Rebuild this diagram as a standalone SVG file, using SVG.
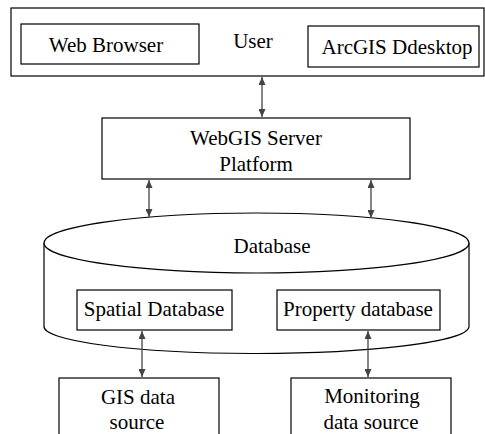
<svg xmlns="http://www.w3.org/2000/svg" width="485" height="434" viewBox="0 0 485 434">
<style>
.box{fill:#fff;stroke:#000;stroke-width:1.2}
.t{font-family:"Liberation Serif","Times New Roman",serif;font-size:21px;fill:#000;text-anchor:middle}
.c{stroke:#444;stroke-width:1.3;fill:none;marker-start:url(#ah);marker-end:url(#ah)}
</style>
<defs>
<marker id="ah" viewBox="0 0 10 10" refX="10" refY="5" markerWidth="8" markerHeight="7" markerUnits="userSpaceOnUse" orient="auto-start-reverse" preserveAspectRatio="none">
<path d="M0,0 L10,5 L0,10 Z" fill="#444"/>
</marker>
</defs>
<rect width="485" height="434" fill="#fff"/>
<g id="user">
<rect class="box" x="11" y="8" width="473" height="68"/>
<text class="t" x="253" y="48">User</text>
</g>
<g id="web-browser">
<rect class="box" x="21" y="24" width="178" height="40"/>
<text class="t" x="106" y="52">Web Browser</text>
</g>
<g id="arcgis">
<rect class="box" x="308" y="26" width="171" height="41"/>
<text class="t" x="397" y="54">ArcGIS Ddesktop</text>
</g>
<g id="webgis">
<rect class="box" x="102" y="118" width="308" height="61"/>
<text class="t" x="256" y="145">WebGIS Server</text>
<text class="t" x="256" y="171">Platform</text>
</g>
<g id="database">
<path class="box" d="M44,243 L44,326 A212.5,27 0 0 0 469,327 L469,243"/>
<ellipse class="box" cx="256.5" cy="243" rx="212.5" ry="30"/>
<text class="t" x="272" y="253">Database</text>
</g>
<g id="spatial-db">
<rect class="box" x="77" y="290" width="155" height="40"/>
<text class="t" x="154" y="316">Spatial Database</text>
</g>
<g id="property-db">
<rect class="box" x="277" y="290" width="163" height="40"/>
<text class="t" x="358" y="316">Property database</text>
</g>
<g id="gis-source">
<rect class="box" x="59" y="378" width="160" height="70"/>
<text class="t" x="138" y="404">GIS data</text>
<text class="t" x="137" y="429">source</text>
</g>
<g id="monitoring-source">
<rect class="box" x="291" y="378" width="160" height="70"/>
<text class="t" x="372" y="403">Monitoring</text>
<text class="t" x="371" y="429">data source</text>
</g>
<g id="connectors">
<line class="c" x1="262" y1="77" x2="262" y2="117"/>
<line class="c" x1="149" y1="180" x2="149" y2="217"/>
<line class="c" x1="371" y1="180" x2="371" y2="218"/>
<line class="c" x1="142" y1="331" x2="142" y2="377"/>
<line class="c" x1="368" y1="331" x2="368" y2="377"/>
</g>
</svg>
